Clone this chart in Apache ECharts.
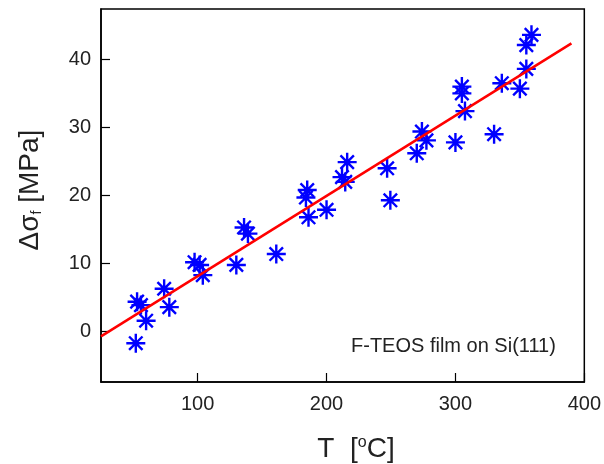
<!DOCTYPE html>
<html>
<head>
<meta charset="utf-8">
<script src="https://cdn.jsdelivr.net/npm/echarts@6/dist/echarts.min.js"></script>
<style>
html,body{margin:0;padding:0;background:#fff;}
#c{width:604px;height:464px;}
</style>
</head>
<body>
<div id="c"></div>
<script>
// Data
var tempC = [52, 60, 53, 56, 74, 78, 97.6, 101.5, 104, 130, 136, 139, 161, 185, 184, 186, 200, 216, 212, 214.5, 247, 249.5, 270, 274, 277.5, 300, 305, 305, 307.4, 330, 336, 350, 355, 355, 359];
var dSigma = [-1.7, 1.6, 4.4, 3.9, 6.3, 3.6, 10.2, 9.8, 8.3, 9.8, 15.3, 14.4, 11.4, 20.8, 19.7, 16.8, 17.9, 24.9, 22.7, 22.0, 24.0, 19.3, 26.2, 29.4, 28.1, 27.8, 36.0, 35.0, 32.4, 29.0, 36.5, 35.7, 38.6, 42.1, 43.6];
var fitX = [25, 390];
var fitY = [-0.7, 42.35];
var xTicks = [100, 200, 300, 400];
var yTicks = [0, 10, 20, 30, 40];
var annotation = 'F-TEOS film on Si(111)';

var points = tempC.map(function (t, i) { return [t, dSigma[i]]; });
var fitLine = fitX.map(function (t, i) { return [t, fitY[i]]; });

var star = 'path://M10,0L10,20M0,10L20,10M2.93,2.93L17.07,17.07M2.93,17.07L17.07,2.93';
var font = '"Liberation Sans", Arial, sans-serif';

var chart = echarts.init(document.getElementById('c'), null, {renderer: 'canvas'});
chart.setOption({
  animation: false,
  backgroundColor: '#fff',
  grid: {left: 101, right: 17, top: 9, bottom: 82, show: true, borderColor: '#000', borderWidth: 1.5, backgroundColor: 'transparent'},
  xAxis: {
    type: 'value', min: 25, max: 400,
    axisLine: {show: true, onZero: false, lineStyle: {color: '#000', width: 1.5}},
    axisTick: {show: true, inside: true, length: 9, customValues: xTicks, lineStyle: {color: '#000', width: 1.2}},
    axisLabel: {show: true, customValues: xTicks, margin: 12, fontSize: 20, color: '#222', fontFamily: font},
    splitLine: {show: false}
  },
  yAxis: {
    type: 'value', min: -7.4, max: 47.4,
    axisLine: {show: true, onZero: false, lineStyle: {color: '#000', width: 1.5}},
    axisTick: {show: true, inside: true, length: 9, customValues: yTicks, lineStyle: {color: '#000', width: 1.2}},
    axisLabel: {show: true, customValues: yTicks, margin: 10, fontSize: 20, color: '#222', fontFamily: font},
    splitLine: {show: false}
  },
  series: [
    {
      type: 'scatter', data: points, symbol: star, symbolSize: 19,
      itemStyle: {color: '#0000ff', borderColor: '#0000ff', borderWidth: 2.4, opacity: 1},
      emphasis: {disabled: true}, z: 2
    },
    {
      type: 'line', data: fitLine, showSymbol: false, symbol: 'none',
      lineStyle: {color: '#ff0000', width: 2.5}, z: 3, emphasis: {disabled: true}
    }
  ],
  graphic: [
    {
      type: 'text', left: 351, top: 336,
      style: {text: annotation, fontSize: 20, fill: '#222', fontFamily: font}
    },
    {
      type: 'text', x: 356, y: 449,
      style: {
        text: '{a|T  [}{s|o}{a|C]}', align: 'center', verticalAlign: 'middle',
        rich: {
          a: {fontSize: 28, fill: '#222', fontFamily: font, verticalAlign: 'bottom'},
          s: {fontSize: 16, fill: '#222', fontFamily: font, verticalAlign: 'top', padding: [0, 0, 0, 0]}
        }
      }
    },
    {
      type: 'text', x: 30, y: 190, rotation: Math.PI / 2,
      style: {
        text: '{a|\u0394\u03c3}{s|f}{a| [MPa]}', align: 'center', verticalAlign: 'middle',
        rich: {
          a: {fontSize: 28, fill: '#222', fontFamily: font, verticalAlign: 'top'},
          s: {fontSize: 14, fill: '#222', fontFamily: font, verticalAlign: 'bottom'}
        }
      }
    }
  ]
});
</script>
</body>
</html>
